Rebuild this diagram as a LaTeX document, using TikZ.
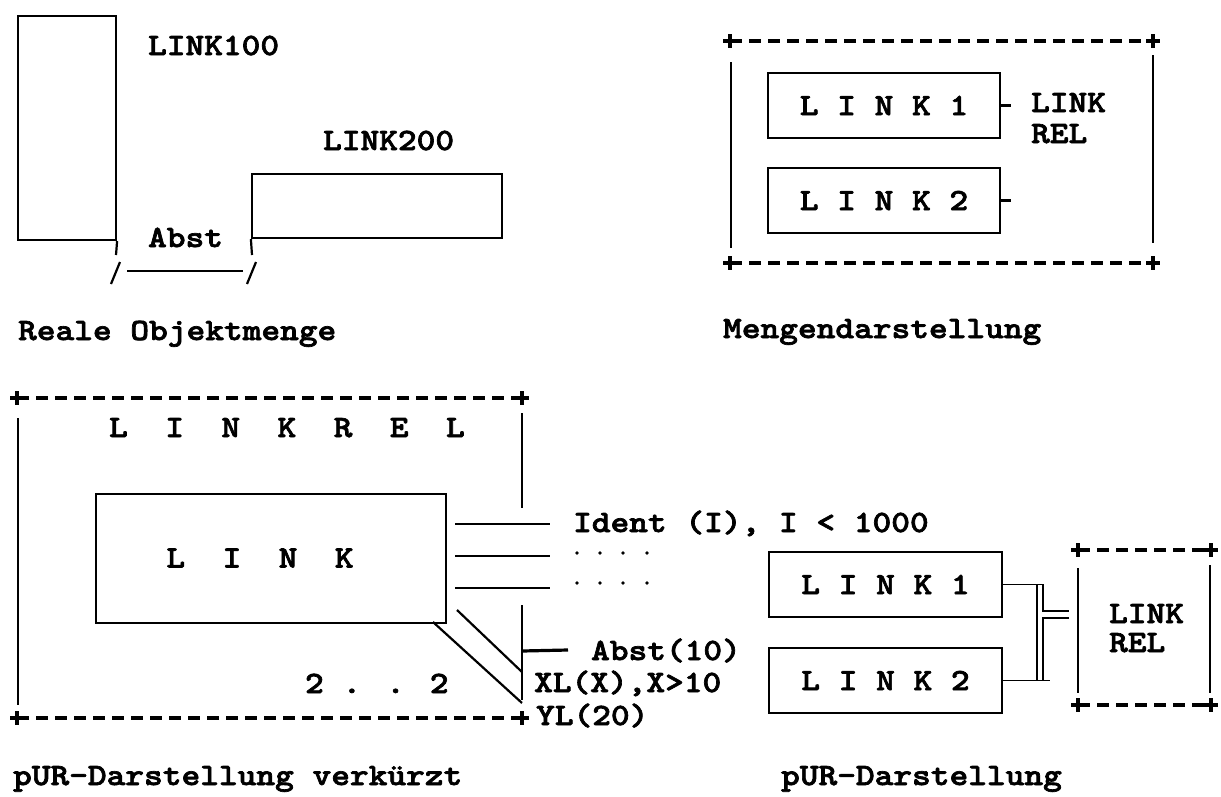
\documentclass[tikz,border=0pt]{standalone}
\usepackage{fontspec}
% heavy typewriter face, widened to the 0.6em pitch of the labels
\newfontfamily\labelfont{lmmonolt10-bold}[Extension=.otf, FakeStretch=1.15, FakeBold=2.2]
\begin{document}
\begin{tikzpicture}[x=1pt,y=-1pt,
  line width=2.2pt,
  txt/.style={font=\fontsize{31}{31}\selectfont\labelfont, inner sep=0pt, anchor=base west},
  ctxt/.style={font=\fontsize{31}{31}\selectfont\labelfont, inner sep=0pt},
  box/.style={draw, line width=2.2pt, rectangle, inner sep=0pt},
  frameline/.style={line width=3.2pt, dash pattern=on 12pt off 7pt},
  corner/.pic={\draw[line width=3.2pt] (-7,0) -- (7,0) (0,-7) -- (0,7);}
]
\useasboundingbox (0,0) rectangle (1221,796);

% ---------- Reale Objektmenge ----------
\node[box, minimum width=98pt, minimum height=224pt] (obj100) at (67,128) {};
\node[box, minimum width=250pt, minimum height=64pt] (obj200) at (377,206) {};
\node[txt] (t100) at (147,55) {LINK100};
\node[txt] (t200) at (322,150) {LINK200};
\node[txt] (tabst) at (147,247) {Abst};
\coordinate (e1) at (116,255);
\coordinate (e2) at (252,255);
\draw (obj100.south east) -- (e1);
\draw (obj200.south west) -- (e2);
\coordinate (s1a) at (111,284); \coordinate (s1b) at (120,262);
\coordinate (s2a) at (247,284); \coordinate (s2b) at (256,262);
\coordinate (da) at (127,271); \coordinate (db) at (243,271);
\draw (s1a) -- (s1b);
\draw (s2a) -- (s2b);
\draw (da) -- (db);
\node[txt] (cap1) at (17,340) {Reale Objektmenge};

% ---------- Mengendarstellung ----------
\coordinate (m1) at (730,41); \coordinate (m2) at (1153,41);
\coordinate (m3) at (730,263); \coordinate (m4) at (1153,263);
\draw[frameline] (m1) -- (m2);
\draw[frameline] (m3) -- (m4);
\pic at (m1) {corner}; \pic at (m2) {corner};
\pic at (m3) {corner}; \pic at (m4) {corner};
\coordinate (ml1) at (731,62); \coordinate (ml2) at (731,248);
\coordinate (mr1) at (1153,55); \coordinate (mr2) at (1153,243);
\draw (ml1) -- (ml2);
\draw (mr1) -- (mr2);
\node[box, minimum width=232pt, minimum height=65pt] (mlink1) at (884,105.5) {};
\node[box, minimum width=232pt, minimum height=65pt] (mlink2) at (884,200.5) {};
\node[ctxt] at (mlink1) {L I N K 1};
\node[ctxt] at (mlink2) {L I N K 2};
\draw (mlink1.east) -- ++(10,0);
\draw (mlink2.east) -- ++(10,0);
\node[txt] (mrel1) at (1030,112) {LINK};
\node[txt] (mrel2) at (1030,143) {REL};
\node[txt] (cap2) at (722,338) {Mengendarstellung};

% ---------- pUR-Darstellung verkuerzt ----------
\coordinate (k1) at (17,398); \coordinate (k2) at (522,398);
\coordinate (k3) at (17,718); \coordinate (k4) at (522,718);
\draw[frameline] (k1) -- (k2);
\draw[frameline] (k3) -- (k4);
\pic at (k1) {corner}; \pic at (k2) {corner};
\pic at (k3) {corner}; \pic at (k4) {corner};
\coordinate (kl1) at (18,418); \coordinate (kl2) at (18,705);
\coordinate (kr1) at (522,413); \coordinate (kr2) at (522,508);
\coordinate (kr3) at (522,605); \coordinate (kr4) at (522,700);
\draw (kl1) -- (kl2);
\draw (kr1) -- (kr2);
\draw (kr3) -- (kr4);
\node[txt] (krel) at (108,437) {L~~I~~N~~K~~R~~E~~L};
\node[box, minimum width=350pt, minimum height=129pt] (klink) at (271,558.5) {};
\node[ctxt] (klinkt) at (260,558) {L~~I~~N~~K};
% attribute lines
\coordinate (a1) at (455,524); \coordinate (a1e) at (550,524);
\coordinate (a2) at (455,556); \coordinate (a2e) at (550,556);
\coordinate (a3) at (455,588); \coordinate (a3e) at (550,588);
\draw (a1) -- (a1e);
\draw (a2) -- (a2e);
\draw (a3) -- (a3e);
\node[txt] (ident) at (572,532) {Ident (I), I < 1000};
\foreach \yy in {553,583}
  \foreach \xx in {577,600,623,647}
    \fill (\xx,\yy) circle (1.8pt);
% oblique attribute lines
\coordinate (o1a) at (433,622); \coordinate (o1b) at (522,703);
\coordinate (o2a) at (457,610); \coordinate (o2b) at (522,672);
\draw (o1a) -- (o1b);
\draw (o2a) -- (o2b);
\coordinate (ab1) at (522,651); \coordinate (ab2) at (568,650);
\draw[line width=3.2pt] (ab1) -- (ab2);
\node[txt] (tabst10) at (590,660) {Abst(10)};
\node[txt] (txl) at (533,692) {XL(X),X>10};
\node[txt] (tyl) at (535,725) {YL(20)};
\node[txt] (tcard) at (304,693) {2 . . 2};
\node[txt] (cap3) at (12,785) {pUR-Darstellung verkürzt};

% ---------- pUR-Darstellung ----------
\node[box, minimum width=233pt, minimum height=65pt] (plink1) at (885.5,584.5) {};
\node[box, minimum width=233pt, minimum height=65pt] (plink2) at (885.5,680.5) {};
\node[ctxt] at (plink1) {L I N K 1};
\node[ctxt] at (plink2) {L I N K 2};
\coordinate (j1) at (1037,584.5); \coordinate (j2) at (1043,584.5);
\coordinate (j3) at (1037,680.5); \coordinate (j4) at (1050,680.5);
\coordinate (j5) at (1043,611); \coordinate (j6) at (1043,618);
\coordinate (j7) at (1069,611); \coordinate (j8) at (1069,618);
\coordinate (j9) at (1043,680.5);
\draw[line width=1.6pt] (plink1.east) -- (j2) -- (j5) -- (j7);
\draw[line width=1.6pt] (plink2.east) -- (j4);
\draw[line width=1.6pt] (j1) -- (j3);
\draw[line width=1.6pt] (j8) -- (j6) -- (j9);
\coordinate (r1) at (1078,550); \coordinate (r2) at (1211,550);
\coordinate (r3) at (1078,705); \coordinate (r4) at (1211,705);
\draw[frameline] (r1) -- (r2);
\draw[frameline] (r3) -- (r4);
\pic at (r1) {corner}; \pic at (r2) {corner};
\pic at (r3) {corner}; \pic at (r4) {corner};
\coordinate (rl1) at (1078,568); \coordinate (rl2) at (1078,693);
\coordinate (rr1) at (1210,565); \coordinate (rr2) at (1210,693);
\draw (rl1) -- (rl2);
\draw (rr1) -- (rr2);
\node[txt] (prel1) at (1108,623) {LINK};
\node[txt] (prel2) at (1108,652) {REL};
\node[txt] (cap4) at (780,785) {pUR-Darstellung};
\end{tikzpicture}
\end{document}
